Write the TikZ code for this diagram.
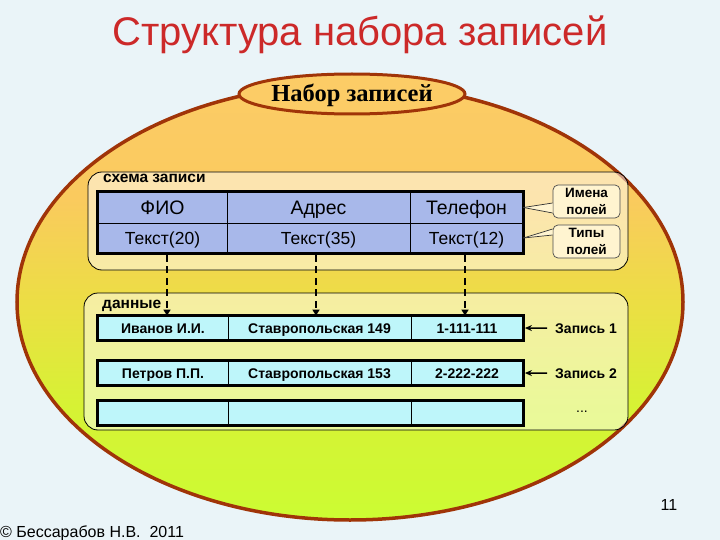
\documentclass[tikz,border=0pt]{standalone}
\usepackage{fontspec}
\setmainfont{Liberation Sans}
\newfontfamily\serifru{Liberation Serif}
\usetikzlibrary{arrows.meta,shapes.geometric}

\definecolor{bgc}{RGB}{234,244,248}
\definecolor{titlered}{RGB}{204,41,41}
\definecolor{brownline}{RGB}{160,52,8}
\definecolor{setfill}{RGB}{252,204,102}
\definecolor{otop}{RGB}{252,204,102}
\definecolor{omid}{RGB}{250,202,94}
\definecolor{ymid}{RGB}{236,222,68}
\definecolor{yg}{RGB}{214,242,52}
\definecolor{ybot}{RGB}{204,252,51}
\definecolor{schblue}{RGB}{168,184,234}
\definecolor{datacyan}{RGB}{190,246,250}
\definecolor{callfill}{RGB}{255,244,208}

\pgfdeclareverticalshading{ellshade}{100bp}{color(0bp)=(ybot); color(25bp)=(ybot); color(38bp)=(yg); color(50bp)=(ymid); color(62bp)=(omid); color(75bp)=(otop); color(100bp)=(otop)}

\begin{document}
\begin{tikzpicture}[x=1pt,y=-1pt,
  areabox/.style={draw=black, line width=0.8pt, rounded corners=14pt, fill=white, fill opacity=0.5},
  arealabel/.style={anchor=base west, inner sep=0pt, font=\bfseries\fontsize{15.5}{18}\selectfont},
  schcell/.style={draw=black, line width=0.8pt, fill=schblue, inner sep=0pt, text height=14pt, text depth=0pt, font=\fontsize{19.5}{22}\selectfont},
  schcellb/.style={schcell, text height=12.5pt, font=\fontsize{17.5}{20}\selectfont},
  datcell/.style={draw=black, line width=0.8pt, fill=datacyan, inner sep=0pt, minimum height=24pt, text height=10pt, text depth=0pt, font=\bfseries\fontsize{14}{16}\selectfont},
  tableframe/.style={draw=black, line width=3pt},
  callbox/.style={draw=black!70, line width=0.7pt, fill=callfill, rounded corners=5pt, minimum width=67pt, minimum height=33pt, inner sep=0pt, align=center, font=\bfseries\fontsize{13.5}{16.5}\selectfont},
  dasharrow/.style={line width=2.6pt, dash pattern=on 7pt off 4.5pt, -{Triangle[length=6pt,width=7pt]}},
  recarrow/.style={line width=1.6pt, -{Stealth[length=7pt,width=6pt]}, shorten >=1.5pt},
  reclabel/.style={anchor=base west, inner sep=0pt, font=\bfseries\fontsize{14}{16}\selectfont}
]
\useasboundingbox (0,0) rectangle (720,540);
\fill[bgc] (0,0) rectangle (720,540);

% title
\node[anchor=base, inner sep=0pt, text=titlered, font=\fontsize{40}{44}\selectfont] (title) at (360,46) {Структура набора записей};

% big ellipse
\shade[shading=ellshade] (350,302) ellipse [x radius=333, y radius=218];
\draw[brownline, line width=3.5pt] (350,302) ellipse [x radius=333, y radius=218];

% small ellipse
\node[ellipse, draw=brownline, line width=3pt, fill=setfill, minimum width=226pt, minimum height=40pt, inner sep=0pt] (set) at (352,94) {};
\node[anchor=base, inner sep=0pt, font=\serifru\bfseries\fontsize{24.5}{28}\selectfont] (settxt) at (352,102) {Набор записей};

% area boxes
\draw[areabox] (88,172) rectangle (628,270);
\draw[areabox] (84,293) rectangle (628,430);
\node[arealabel] (schlbl) at (103,183) {схема записи};
\node[arealabel] (datlbl) at (102,308) {данные};

% schema table
\node[schcell, minimum width=129pt, minimum height=31pt] (fio) at (162.5,207.5) {ФИО};
\node[schcell, minimum width=183pt, minimum height=31pt] (adr) at (318.5,207.5) {Адрес};
\node[schcell, minimum width=113pt, minimum height=31pt] (tel) at (466.5,207.5) {Телефон};
\node[schcellb, minimum width=129pt, minimum height=30pt] (t20) at (162.5,238) {Текст(20)};
\node[schcellb, minimum width=183pt, minimum height=30pt] (t35) at (318.5,238) {Текст(35)};
\node[schcellb, minimum width=113pt, minimum height=30pt] (t12) at (466.5,238) {Текст(12)};
\draw[tableframe] (fio.north west) rectangle (t12.south east);

% callouts
\node[callbox] (names) at (586.5,201.5) {Имена\\полей};
\node[callbox] (types) at (586.5,241.5) {Типы\\полей};
\fill[callfill] (tel.east) -- ([yshift=-1.5pt]names.west) -- ([yshift=-11.5pt]names.west) -- cycle;
\draw[black!80, line width=0.7pt] (tel.east) -- ([yshift=-1.5pt]names.west);
\draw[black!80, line width=0.7pt] (tel.east) -- ([yshift=-11.5pt]names.west);
\fill[callfill] (t12.east) -- ([yshift=12.5pt]types.west) -- ([yshift=6.5pt]types.west) -- cycle;
\draw[black!80, line width=0.7pt] (t12.east) -- ([yshift=12.5pt]types.west);
\draw[black!80, line width=0.7pt] (t12.east) -- ([yshift=6.5pt]types.west);

% data rows
\node[datcell, minimum width=130pt] (r1a) at (163,328) {Иванов И.И.};
\node[datcell, minimum width=183pt] (r1b) at (319.5,328) {Ставропольская 149};
\node[datcell, minimum width=112pt] (r1c) at (467,328) {1-111-111};
\draw[tableframe] (r1a.north west) rectangle (r1c.south east);
\node[datcell, minimum width=130pt] (r2a) at (163,373) {Петров П.П.};
\node[datcell, minimum width=183pt] (r2b) at (319.5,373) {Ставропольская 153};
\node[datcell, minimum width=112pt] (r2c) at (467,373) {2-222-222};
\draw[tableframe] (r2a.north west) rectangle (r2c.south east);
\node[datcell, minimum width=130pt] (r3a) at (163,413) {};
\node[datcell, minimum width=183pt] (r3b) at (319.5,413) {};
\node[datcell, minimum width=112pt] (r3c) at (467,413) {};
\draw[tableframe] (r3a.north west) rectangle (r3c.south east);

% dashed arrows
\coordinate (d1) at ([xshift=4.5pt,yshift=-1.5pt]t20.south);
\coordinate (d2) at ([xshift=-2.5pt,yshift=-1.5pt]t35.south);
\coordinate (d3) at ([xshift=-1.5pt,yshift=-1.5pt]t12.south);
\draw[dasharrow] (d1) -- (d1 |- r1a.north);
\draw[dasharrow] (d2) -- (d2 |- r1b.north);
\draw[dasharrow] (d3) -- (d3 |- r1c.north);

% record labels
\node[reclabel] (rec1) at (555,333) {Запись 1};
\node[reclabel] (rec2) at (555,378) {Запись 2};
\node[inner sep=0pt, font=\fontsize{14}{16}\selectfont] (dots) at (582,412) {...};
\draw[recarrow] ([xshift=-8pt]rec1.west) -- (r1c.east);
\draw[recarrow] ([xshift=-8pt]rec2.west) -- (r2c.east);

% footer
\node[anchor=base, inner sep=0pt, font=\fontsize{16}{18}\selectfont] (page) at (669,510) {11};
\node[anchor=base west, inner sep=0pt, font=\fontsize{16}{18}\selectfont] (foot) at (0,537) {©\ Бессарабов Н.В.\ \ 2011};
\end{tikzpicture}
\end{document}
